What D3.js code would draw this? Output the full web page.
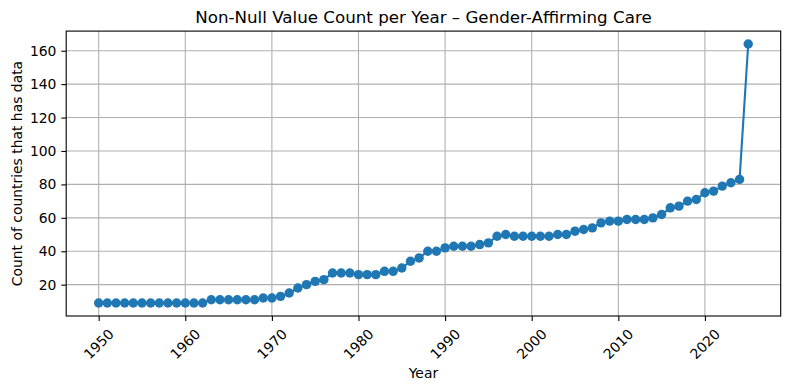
<!DOCTYPE html>
<html>
<head>
<meta charset="utf-8">
<script src="https://cdn.jsdelivr.net/npm/d3@7"></script>
<style>
  html, body { margin: 0; padding: 0; background: #fff; }
  svg { display: block; font-family: "DejaVu Sans", sans-serif; }
</style>
</head>
<body>
<svg id="chart" width="789" height="390"></svg>
<script>
const years = d3.range(1950, 2026);
const counts = [
  9, 9, 9, 9, 9, 9, 9, 9, 9, 9,        // 1950-1959
  9, 9, 9, 11, 11, 11, 11, 11, 11, 12, // 1960-1969
  12, 13, 15, 18, 20, 22, 23, 27, 27, 27, // 1970-1979
  26, 26, 26, 28, 28, 30, 34, 36, 40, 40, // 1980-1989
  42, 43, 43, 43, 44, 45, 49, 50, 49, 49, // 1990-1999
  49, 49, 49, 50, 50, 52, 53, 54, 57, 58, // 2000-2009
  58, 59, 59, 59, 60, 62, 66, 67, 70, 71, // 2010-2019
  75, 76, 79, 81, 83, 164                 // 2020-2025
];
const xTicks = [1950, 1960, 1970, 1980, 1990, 2000, 2010, 2020];
const yTicks = [20, 40, 60, 80, 100, 120, 140, 160];
const titleText = "Non-Null Value Count per Year \u2013 Gender-Affirming Care";
const xLabel = "Year";
const yLabel = "Count of countries that has data";

const data = years.map((y, i) => ({ year: y, count: counts[i] }));

const W = 789, H = 390;
const m = { left: 66.2, right: W - 780.7, top: 31.1, bottom: H - 316 };
const pw = W - m.left - m.right, ph = H - m.top - m.bottom;

const xMin = d3.min(years), xMax = d3.max(years);
const xPad = (xMax - xMin) * 0.05;
const yMin = d3.min(counts), yMax = d3.max(counts);
const yPad = (yMax - yMin) * 0.05;

const x = d3.scaleLinear().domain([xMin - xPad, xMax + xPad]).range([0, pw]);
const y = d3.scaleLinear().domain([yMin - yPad, yMax + yPad]).range([ph, 0]);

const svg = d3.select("#chart");
const g = svg.append("g").attr("transform", `translate(${m.left},${m.top})`);

// grid
g.append("g").selectAll("line").data(xTicks).join("line")
  .attr("x1", d => x(d)).attr("x2", d => x(d))
  .attr("y1", 0).attr("y2", ph)
  .attr("stroke", "#b0b0b0").attr("stroke-width", 1.1);
g.append("g").selectAll("line").data(yTicks).join("line")
  .attr("y1", d => y(d)).attr("y2", d => y(d))
  .attr("x1", 0).attr("x2", pw)
  .attr("stroke", "#b0b0b0").attr("stroke-width", 1.1);

// line + markers
const line = d3.line().x(d => x(d.year)).y(d => y(d.count));
g.append("path").datum(data)
  .attr("d", line).attr("fill", "none")
  .attr("stroke", "#1f77b4").attr("stroke-width", 2.1);
g.append("g").selectAll("circle").data(data).join("circle")
  .attr("cx", d => x(d.year)).attr("cy", d => y(d.count))
  .attr("r", 4.7).attr("fill", "#1f77b4");

// axes
const xAxis = d3.axisBottom(x).tickValues(xTicks).tickFormat(d3.format("d")).tickSizeOuter(0).tickSize(4.9).tickPadding(4.9);
const xg = g.append("g").attr("transform", `translate(0,${ph})`).call(xAxis);
xg.select(".domain").remove();
xg.selectAll(".tick line").attr("stroke", "#000").attr("stroke-width", 1.1);
xg.selectAll(".tick text")
  .attr("font-size", 13.9).attr("fill", "#000")
  .attr("font-family", "DejaVu Sans")
  .attr("text-anchor", "middle")
  .attr("dy", null).attr("y", null)
  .attr("dominant-baseline", "central")
  .attr("transform", "translate(-0.5,28) rotate(-45)");

const yAxis = d3.axisLeft(y).tickValues(yTicks).tickSizeOuter(0).tickSize(4.9).tickPadding(4.9);
const yg = g.append("g").call(yAxis);
yg.select(".domain").remove();
yg.selectAll(".tick line").attr("stroke", "#000").attr("stroke-width", 1.1);
yg.selectAll(".tick text").attr("font-size", 13.9).attr("fill", "#000").attr("font-family", "DejaVu Sans");

// frame
g.append("rect").attr("x", 0).attr("y", 0).attr("width", pw).attr("height", ph)
  .attr("fill", "none").attr("stroke", "#000").attr("stroke-width", 1.1);

// labels
svg.append("text").attr("x", m.left + pw / 2).attr("y", 22.5)
  .attr("text-anchor", "middle").attr("font-size", 16.7).attr("fill", "#000")
  .text(titleText);
svg.append("text").attr("x", m.left + pw / 2).attr("y", 377.5)
  .attr("text-anchor", "middle").attr("font-size", 13.9).attr("fill", "#000")
  .text(xLabel);
svg.append("text")
  .attr("transform", `translate(21.5,${m.top + ph / 2}) rotate(-90)`)
  .attr("text-anchor", "middle").attr("font-size", 13.9).attr("fill", "#000")
  .text(yLabel);
</script>
</body>
</html>
